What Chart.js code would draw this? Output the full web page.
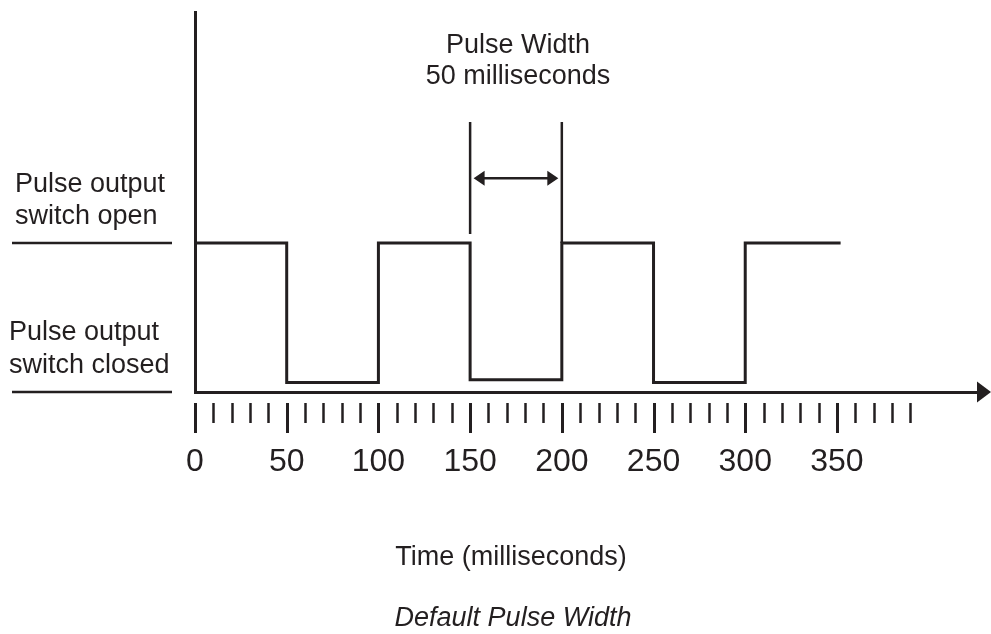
<!DOCTYPE html>
<html>
<head>
<meta charset="utf-8">
<script src="https://cdn.jsdelivr.net/npm/chart.js@4.4.1/dist/chart.umd.min.js"></script>
<style>
  body { margin: 0; background: #fff; }
  #wrap { width: 991px; height: 634px; }
</style>
</head>
<body>
<div id="wrap"><canvas id="pulseChart" width="991" height="634"></canvas></div>
<script>
// signal: level at each switching time (stepped 'before')
const times = [0, 50, 100, 150, 200, 250, 300, 352];
const levels = [1, 0.064, 1, 0.082, 1, 0.064, 1, 1];
const tickLabels = [0, 50, 100, 150, 200, 250, 300, 350];
const tickMarks = Array.from({ length: 40 }, (_, i) => i * 10);
const pulseMarks = [150, 200];
const pulseTitle = ["Pulse Width", "50 milliseconds"];
const openLabel = ["Pulse output", "switch open"];
const closedLabel = ["Pulse output", "switch closed"];
const axisTitle = "Time (milliseconds)";
const caption = "Default Pulse Width";

const ink = '#231f20';
const font = "'Liberation Sans', Arial, sans-serif";

const drawingPlugin = {
    id: 'drawing',
    afterDraw(chart) {
        const ctx = chart.ctx;
        const x = chart.scales.x;
        const y = chart.scales.y;
        ctx.save();
        ctx.strokeStyle = ink;
        ctx.fillStyle = ink;

        // tick marks under the axis
        tickMarks.forEach(function (v) {
            const px = Math.round(x.getPixelForValue(v)) + 0.5;
            const major = tickLabels.indexOf(v) !== -1;
            ctx.lineWidth = major ? 3 : 2.5;
            ctx.beginPath();
            ctx.moveTo(px, 403);
            ctx.lineTo(px, major ? 433 : 423);
            ctx.stroke();
        });

        // arrow head at the end of the time axis
        const ay = y.getPixelForValue(0);
        ctx.beginPath();
        ctx.moveTo(977, ay - 10.5);
        ctx.lineTo(991, ay);
        ctx.lineTo(977, ay + 10.5);
        ctx.closePath();
        ctx.fill();

        // pulse width markers
        ctx.lineWidth = 2.5;
        const x1 = x.getPixelForValue(pulseMarks[0]);
        const x2 = x.getPixelForValue(pulseMarks[1]);
        ctx.beginPath();
        ctx.moveTo(x1, y.getPixelForValue(1.812));
        ctx.lineTo(x1, y.getPixelForValue(1.06));
        ctx.moveTo(x2, y.getPixelForValue(1.812));
        ctx.lineTo(x2, y.getPixelForValue(1));
        ctx.stroke();

        // double arrow between markers
        const my = y.getPixelForValue(1.434);
        const l = x1 + 3.5, r = x2 - 3.5;
        ctx.lineWidth = 2.5;
        ctx.beginPath();
        ctx.moveTo(l + 8, my);
        ctx.lineTo(r - 8, my);
        ctx.stroke();
        ctx.beginPath();
        ctx.moveTo(l, my);
        ctx.lineTo(l + 11, my - 7.5);
        ctx.lineTo(l + 11, my + 7.5);
        ctx.closePath();
        ctx.moveTo(r, my);
        ctx.lineTo(r - 11, my - 7.5);
        ctx.lineTo(r - 11, my + 7.5);
        ctx.closePath();
        ctx.fill();

        // level lines under the left labels
        ctx.lineWidth = 2.5;
        ctx.beginPath();
        ctx.moveTo(12, y.getPixelForValue(1));
        ctx.lineTo(172, y.getPixelForValue(1));
        ctx.moveTo(12, y.getPixelForValue(0));
        ctx.lineTo(172, y.getPixelForValue(0));
        ctx.stroke();

        // texts
        ctx.font = '27px ' + font;
        ctx.textBaseline = 'alphabetic';
        ctx.textAlign = 'center';
        ctx.fillText(pulseTitle[0], 518, 53);
        ctx.fillText(pulseTitle[1], 518, 84);
        ctx.fillText(axisTitle, 511, 565);

        ctx.textAlign = 'left';
        ctx.fillText(openLabel[0], 15, 192);
        ctx.fillText(openLabel[1], 15, 224);
        ctx.fillText(closedLabel[0], 9, 340);
        ctx.fillText(closedLabel[1], 9, 373);

        ctx.font = 'italic 27px ' + font;
        ctx.textAlign = 'center';
        ctx.fillText(caption, 513, 626);
        ctx.restore();
    }
};

new Chart(document.getElementById('pulseChart'), {
    type: 'line',
    data: {
        datasets: [{
            data: times.map((t, i) => ({ x: t, y: levels[i] })),
            stepped: 'before',
            borderColor: ink,
            borderWidth: 3,
            pointRadius: 0,
            fill: false,
            clip: 4,
        }],
    },
    options: {
        responsive: false,
        animation: false,
        devicePixelRatio: 1,
        layout: { padding: { left: 195, top: 12, right: 11, bottom: 0 } },
        plugins: {
            legend: { display: false },
            tooltip: { enabled: false },
        },
        scales: {
            x: {
                type: 'linear',
                min: 0,
                max: 428,
                afterFit: function (scale) {
                    scale.height = 242;
                    scale.paddingLeft = 0;
                    scale.paddingRight = 0;
                },
                border: { display: true, color: ink, width: 3 },
                grid: { drawOnChartArea: false, drawTicks: false },
                ticks: {
                    stepSize: 10,
                    autoSkip: false,
                    maxRotation: 0,
                    padding: 51,
                    color: ink,
                    font: { family: font, size: 32 },
                    callback: function (v) {
                        return tickLabels.indexOf(v) !== -1 ? String(v) : '';
                    },
                },
            },
            y: {
                min: 0,
                max: 2.55,
                afterFit: function (scale) { scale.width = 0; },
                border: { display: true, color: ink, width: 3 },
                grid: { drawOnChartArea: false, drawTicks: false },
                ticks: { display: false },
            },
        },
    },
    plugins: [drawingPlugin],
});
</script>
</body>
</html>
